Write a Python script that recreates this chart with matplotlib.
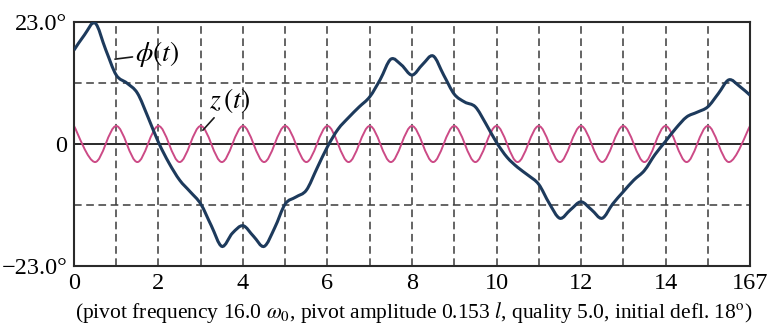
import numpy as np
import matplotlib
matplotlib.use('Agg')
import matplotlib.pyplot as plt
from matplotlib.path import Path
from matplotlib.patches import PathPatch

plt.rcParams['font.family'] = ['Liberation Serif', 'DejaVu Serif']
plt.rcParams['mathtext.fontset'] = 'stix'

# pendulum angle phi(t), read every 0.25 time units (degrees)
t_phi = np.arange(0, 16.01, 0.25)
phi = [17.7, 20.6, 22.8, 17.8, 13.0, 11.5, 9.6, 5.1,
       0.3, -3.6, -6.8, -9.0, -11.3, -15.4, -19.3, -16.8,
       -15.4, -17.4, -19.3, -15.8, -11.3, -10.0, -8.7, -4.6,
       -0.5, 2.8, 5.0, 7.0, 8.9, 12.2, 16.0, 14.9,
       13.0, 15.0, 16.6, 13.0, 9.4, 7.9, 7.0, 3.8,
       0.3, -2.5, -4.4, -5.9, -7.6, -11.2, -14.0, -12.4,
       -10.9, -12.4, -14.0, -11.3, -9.0, -6.8, -5.0, -2.0,
       0.5, 3.0, 5.1, 6.0, 7.0, 9.5, 12.1, 10.9, 9.2]

# pivot displacement z(t): peaks at integer times, troughs in between
t_z = np.arange(0, 16.01, 0.5)
z = [3.4, -3.4] * 16 + [3.4]

x_ticks = [0, 2, 4, 6, 8, 10, 12, 14, 16]
x_labels = ['0', '2', '4', '6', '8', '10', '12', '14', '167']
y_ticks = [-23, 0, 23]
y_labels = ['\u221223.0\u00b0', '0', '23.0\u00b0']


def smooth_path(x, y):
    # Catmull-Rom curve through the read points, drawn as Bezier segments
    pts = np.column_stack([x, y])
    n = len(pts)
    verts = [pts[0]]
    codes = [Path.MOVETO]
    for i in range(n - 1):
        p0 = pts[max(i - 1, 0)]
        p1 = pts[i]
        p2 = pts[i + 1]
        p3 = pts[min(i + 2, n - 1)]
        verts += [p1 + (p2 - p0) / 6, p2 - (p3 - p1) / 6, p2]
        codes += [Path.CURVE4] * 3
    return Path(verts, codes)


fig = plt.figure(figsize=(7.74, 3.27), dpi=100)
ax = fig.add_axes([0.0956, 0.1865, 0.8734, 0.7462])

ax.set_xlim(0, 16)
ax.set_ylim(-23, 23)

for xv in range(1, 16):
    ax.axvline(xv, color='#3a3a3a', lw=1.1, ls=(0, (5, 3)), zorder=1)
for yv in (-11.5, 11.5):
    ax.axhline(yv, color='#3a3a3a', lw=1.1, ls=(0, (5, 3)), zorder=1)
ax.axhline(0, color='#2a2a2a', lw=1.4, zorder=1)

ax.add_patch(PathPatch(smooth_path(t_z, z), fill=False, ec='#cc4a86', lw=1.4, zorder=2))
ax.add_patch(PathPatch(smooth_path(t_phi, phi), fill=False, ec='#1d3a5c', lw=2.2, zorder=3))

for s in ax.spines.values():
    s.set_color('#2a2a2a')
    s.set_linewidth(1.5)

ax.set_xticks(x_ticks)
ax.set_xticklabels(x_labels)
ax.set_yticks(y_ticks)
ax.set_yticklabels(y_labels)
ax.tick_params(length=0, labelsize=17.5, pad=5)

ax.annotate(r'$\phi(t)$', xy=(0.97, 16.0), xytext=(1.45, 17.0),
            fontsize=20, va='center', ha='left',
            arrowprops=dict(arrowstyle='-', color='#1a1a1a', lw=1.2, shrinkA=0, shrinkB=0))
ax.annotate(r'$z\,(t)$', xy=(3.05, 2.6), xytext=(3.2, 8.2),
            fontsize=20, va='center', ha='left',
            arrowprops=dict(arrowstyle='-', color='#1a1a1a', lw=1.2, shrinkA=0, shrinkB=0))

fig.text(0.535, 0.043,
         r'(pivot frequency 16.0 $\omega_0$, pivot amplitude 0.153 $l$, quality 5.0, initial defl. 18$^{\rm o}$)',
         ha='center', va='center', fontsize=15.5)

fig.savefig('out.png', dpi=100)
